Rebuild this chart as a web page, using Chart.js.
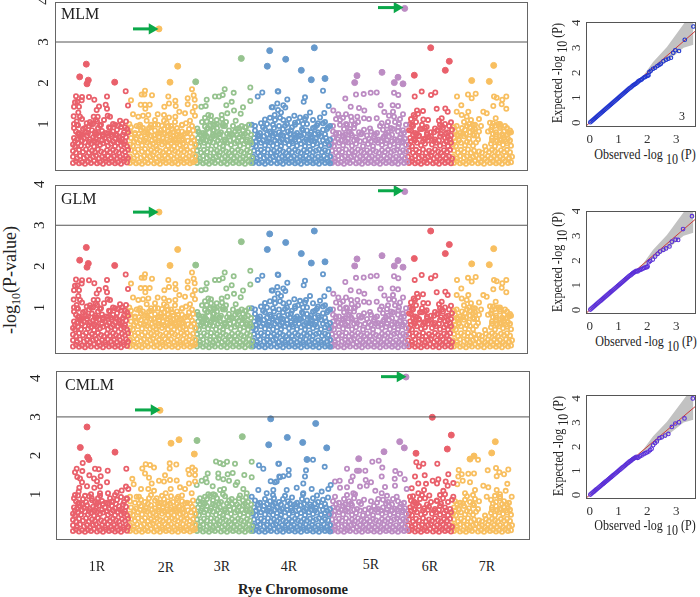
<!DOCTYPE html>
<html>
<head>
<meta charset="utf-8">
<script src="https://cdn.jsdelivr.net/npm/chart.js@4"></script>
<style>
html,body{margin:0;padding:0;background:#fff;}
body{position:relative;width:700px;height:597px;overflow:hidden;font-family:"Liberation Serif",serif;color:#222;}
canvas{position:absolute;}
.t{position:absolute;white-space:nowrap;transform:translate(-50%,-50%);}
.r{transform:translate(-50%,-50%) rotate(-90deg);}
.ex{transform:translate(-50%,-50%) rotate(-90deg) scaleX(.86);}
.ob{transform:translate(-50%,-50%) scaleX(.86);}
sub{font-size:1em;vertical-align:-.35em;line-height:0;}
</style>
</head>
<body>
<canvas id="mlm" width="505" height="173" style="left:25px;top:0"></canvas>
<canvas id="glm" width="505" height="179" style="left:25px;top:176px"></canvas>
<canvas id="cmlm" width="507" height="172" style="left:25px;top:370px"></canvas>
<canvas id="qq1" width="140" height="127" style="left:560px;top:20px"></canvas>
<canvas id="qq2" width="140" height="125" style="left:560px;top:209px"></canvas>
<canvas id="qq3" width="140" height="126" style="left:560px;top:393px"></canvas>

<div class="t" style="left:61px;top:5px;transform:none;font-size:16px">MLM</div>
<div class="t" style="left:61px;top:190px;transform:none;font-size:16px">GLM</div>
<div class="t" style="left:65px;top:376px;transform:none;font-size:16px">CMLM</div>
<div class="t r" style="left:10px;top:280px;font-size:18px">-log<sub style="font-size:12px">10</sub>(P-value)</div>
<div class="t" style="left:97px;top:567px;font-size:14px">1R</div>
<div class="t" style="left:166px;top:568px;font-size:14px">2R</div>
<div class="t" style="left:222px;top:567px;font-size:14px">3R</div>
<div class="t" style="left:289px;top:567px;font-size:14px">4R</div>
<div class="t" style="left:371px;top:565px;font-size:14px">5R</div>
<div class="t" style="left:430px;top:567px;font-size:14px">6R</div>
<div class="t" style="left:487px;top:567px;font-size:14px">7R</div>
<div class="t" style="left:293px;top:589px;font-size:14.5px;font-weight:bold">Rye Chromosome</div>

<div class="t ex" style="left:558px;top:73px;font-size:14px">Expected -log <sub>10</sub> (P)</div>
<div class="t ex" style="left:558px;top:262px;font-size:14px">Expected -log <sub>10</sub> (P)</div>
<div class="t ex" style="left:559px;top:446px;font-size:14px">Expected -log <sub>10</sub> (P)</div>
<div class="t ob" style="left:645px;top:155px;font-size:14px">Observed -log <sub>10</sub> (P)</div>
<div class="t ob" style="left:646px;top:342px;font-size:14px">Observed -log <sub>10</sub> (P)</div>
<div class="t ob" style="left:645px;top:526px;font-size:14px">Observed -log <sub>10</sub> (P)</div>
<div class="t" style="left:682px;top:116px;font-size:12px">3</div>

<script>
// colours per chromosome
let chromColors = ['#E9606B','#F8BF60','#96C38F','#6699CC','#BC8CC3','#E9606B','#F8BF60'];
let yTicks = [1,2,3,4];
let qqXTicks = [0,1,2,3];
let qqYTicks = [0,1,2,3,4];

// dense lower part of each chromosome, position,value,position,value...
let low1R = [18,.05,21,.09,24,.04,27,.07,30,.03,33,.08,36,.05,39,.1,42,.04,45,.07,48,.03,51,.09,54,.05,57,.08,60,.04,63,.07,66,.03,69,.09,72,.06,
18,.2,22,.16,25,.22,29,.17,32,.21,35,.15,38,.2,41,.23,44,.16,47,.2,50,.15,53,.22,56,.17,59,.21,62,.16,65,.2,68,.15,71,.22,73,.17,
18,.34,21,.3,24,.37,28,.32,31,.38,34,.3,37,.35,40,.31,43,.38,46,.33,49,.3,52,.36,55,.31,58,.37,61,.33,64,.3,67,.36,70,.32,73,.37,
18,.5,20,.46,23,.53,26,.47,30,.55,33,.48,36,.52,39,.45,42,.54,45,.49,48,.53,53,.47,56,.52,60,.46,63,.54,66,.48,69,.51,72,.46,
19,.66,22,.62,25,.7,29,.65,32,.72,35,.63,38,.68,41,.64,44,.71,50,.66,54,.62,57,.7,60,.64,64,.69,67,.63,71,.68,
21,.82,24,.78,28,.88,31,.8,34,.95,37,.85,40,.8,43,.9,47,.83,51,.78,55,.9,58,.82,62,.86,66,.93,69,.8,72,.88,19,.9,23,.97,36,1,45,.96,60,.98];
let low2R = [75,.05,78,.09,81,.04,84,.07,87,.03,90,.08,93,.05,96,.1,99,.04,102,.07,105,.03,108,.09,111,.05,114,.08,117,.04,120,.07,123,.03,126,.09,129,.05,132,.08,135,.04,138,.07,140,.1,
75,.21,79,.16,82,.23,86,.18,89,.22,92,.15,95,.2,98,.24,101,.17,104,.21,107,.15,110,.23,113,.18,116,.22,119,.16,122,.2,125,.15,128,.22,131,.17,134,.21,137,.16,140,.22,
76,.36,80,.31,83,.38,87,.33,90,.39,93,.31,96,.36,99,.32,102,.39,105,.34,108,.31,111,.37,114,.32,117,.38,120,.34,123,.31,126,.37,129,.33,132,.38,135,.31,138,.36,
75,.5,78,.46,83,.54,87,.48,92,.55,95,.48,98,.52,101,.46,104,.55,107,.5,110,.54,113,.47,116,.53,119,.46,122,.55,125,.49,128,.52,131,.46,136,.54,140,.49,
76,.66,81,.63,86,.7,91,.65,96,.72,100,.64,104,.69,108,.65,112,.72,116,.66,120,.62,124,.7,128,.64,137,.68,
75,.82,80,.78,86,.86,90,.8,94,.9,100,.84,105,.78,109,.88,113,.82,118,.8,122,.9,127,.82,132,.78,138,.84,84,.94,96,.98,107,.96,116,.95,127,.97];
let low3R = [142,.05,145,.09,148,.04,151,.07,154,.03,157,.08,160,.05,163,.1,166,.04,169,.07,172,.03,175,.09,178,.05,181,.08,184,.04,187,.07,190,.03,193,.09,196,.05,
141,.2,145,.16,148,.22,152,.17,155,.21,158,.15,161,.2,164,.23,167,.16,170,.2,173,.15,176,.22,179,.17,182,.21,185,.16,188,.2,191,.15,194,.22,197,.17,
142,.35,146,.3,149,.37,152,.32,156,.38,159,.3,162,.35,165,.31,168,.38,171,.33,174,.3,177,.36,180,.31,183,.37,186,.33,189,.3,192,.36,195,.32,
141,.5,144,.46,149,.54,153,.48,158,.55,161,.47,165,.52,168,.46,172,.54,176,.49,180,.53,185,.47,189,.52,193,.46,196,.54,
143,.66,147,.63,152,.7,156,.64,160,.72,165,.66,170,.62,174,.7,179,.64,184,.68,188,.72,192,.62,
143,.82,148,.78,152,.88,155,.96,158,.84,162,.9,166,.8,170,.95,174,.84,180,.82,184,.9,188,.84,193,.8,150,.94,160,.98,168,1,191,.92];
let low4R = [198,.05,201,.09,204,.04,207,.07,210,.03,213,.08,216,.05,219,.1,222,.04,225,.07,228,.03,231,.09,234,.05,237,.08,240,.04,243,.07,246,.03,249,.09,252,.05,255,.08,258,.04,261,.07,264,.03,267,.09,270,.05,273,.08,275,.04,
198,.2,202,.16,205,.22,209,.17,212,.21,215,.15,218,.2,221,.23,224,.16,227,.2,230,.15,233,.22,236,.17,239,.21,242,.16,245,.2,248,.15,251,.22,254,.17,257,.21,260,.16,263,.2,266,.15,269,.22,272,.17,275,.21,
199,.35,203,.3,206,.37,209,.32,213,.38,216,.3,219,.35,222,.31,225,.38,228,.33,231,.3,234,.36,237,.31,240,.37,243,.33,246,.3,249,.36,252,.32,255,.37,258,.31,261,.35,264,.38,267,.31,270,.36,273,.33,
198,.5,201,.46,206,.54,210,.48,215,.55,218,.47,222,.52,226,.46,230,.54,234,.49,238,.53,242,.47,246,.52,250,.46,254,.54,258,.49,262,.53,266,.47,270,.52,274,.48,
199,.66,204,.63,209,.7,214,.64,218,.72,222,.66,227,.62,232,.7,236,.64,241,.68,246,.72,251,.62,256,.68,261,.64,266,.7,271,.66,275,.62,
200,.84,205,.78,210,.88,215,.82,219,.9,224,.8,228,.88,233,.82,237,.92,242,.78,247,.88,252,.84,258,.9,263,.8,268,.86,273,.92,218,.98,230,.96,248,1,262,.97];
let low5R = [277,.05,280,.09,283,.04,286,.07,289,.03,292,.08,295,.05,298,.1,301,.04,304,.07,307,.03,310,.09,313,.05,316,.08,319,.04,322,.07,325,.03,328,.09,331,.05,334,.08,337,.04,340,.07,343,.03,346,.09,349,.05,352,.08,
276,.2,280,.16,283,.22,287,.17,290,.21,293,.15,296,.2,299,.23,302,.16,305,.2,308,.15,311,.22,314,.17,317,.21,320,.16,323,.2,326,.15,329,.22,332,.17,335,.21,338,.16,341,.2,344,.15,347,.22,350,.17,
277,.35,281,.3,284,.37,287,.32,291,.38,294,.3,297,.35,300,.31,303,.38,306,.33,309,.3,312,.36,315,.31,318,.37,321,.33,324,.3,327,.36,330,.32,333,.37,336,.31,339,.35,342,.38,345,.31,348,.36,351,.33,
276,.5,279,.46,284,.54,288,.48,293,.55,297,.47,301,.52,308,.46,313,.51,318,.46,323,.54,327,.49,331,.53,335,.47,339,.52,343,.46,347,.54,351,.49,
278,.66,283,.63,288,.7,293,.64,297,.72,302,.62,314,.64,319,.7,323,.62,328,.66,334,.7,340,.63,345,.68,350,.64,
278,.82,284,.78,289,.88,294,.82,299,.9,304,.8,309,.86,316,.82,322,.78,328,.86,333,.8,338,.88,343,.82,349,.78,292,.98,300,1,332,.96];
let low6R = [354,.05,357,.09,360,.04,363,.07,366,.03,369,.08,372,.05,375,.1,378,.04,381,.07,384,.03,387,.09,390,.05,393,.08,396,.04,
353,.2,357,.16,360,.22,364,.17,367,.21,370,.15,373,.2,376,.23,379,.16,382,.2,385,.15,388,.22,391,.17,394,.21,397,.16,
354,.35,358,.3,361,.37,364,.32,368,.38,371,.3,374,.35,377,.31,380,.38,383,.33,386,.3,389,.36,392,.32,395,.37,
354,.5,357,.46,362,.54,366,.48,370,.52,377,.5,381,.54,385,.47,389,.52,393,.46,396,.54,
355,.66,359,.62,364,.7,369,.64,374,.68,380,.62,385,.7,390,.66,395,.62,
356,.84,360,.78,365,.88,370,.9,376,.8,382,.84,388,.9,393,.8,397,.86,358,.95,367,.98,390,1];
let low7R = [399,.05,402,.09,405,.04,408,.07,411,.03,414,.08,417,.05,420,.1,423,.04,426,.07,429,.03,432,.09,435,.05,438,.08,441,.04,444,.07,447,.03,450,.09,453,.05,456,.07,
398,.2,402,.16,405,.22,409,.17,412,.21,415,.15,418,.2,421,.23,424,.16,427,.2,430,.15,433,.22,436,.17,439,.21,442,.16,445,.2,448,.15,451,.22,454,.17,457,.2,
399,.35,403,.3,406,.37,409,.32,413,.38,416,.3,419,.35,424,.33,427,.3,431,.36,434,.31,437,.37,440,.33,443,.3,446,.36,449,.32,452,.37,455,.31,
398,.5,401,.46,406,.54,410,.48,415,.55,418,.47,430,.45,436,.52,440,.46,444,.54,448,.49,452,.53,456,.47,
399,.66,404,.63,409,.7,414,.64,419,.72,423,.62,437,.66,441,.7,445,.63,449,.68,453,.64,
400,.82,405,.78,410,.86,415,.8,420,.88,424,.82,436,.86,441,.8,445,.9,449,.82,454,.78,412,.95,418,.98,440,.96,445,1];

// more points where the band thins out
let fill1R = [20,.58,27,.6,34,.57,40,.58,47,.6,52,.57,58,.58,65,.6,70,.57,23,.76,27,.74,42,.76,48,.75,53,.77,61,.75,68,.74];
let fill2R = [79,.58,85,.6,90,.59,97,.6,103,.6,109,.58,115,.6,121,.59,127,.6,133,.59,139,.6,84,.76,93,.76,103,.76,110,.76,115,.76,122,.75,130,.76,135,.76];
let fill3R = [146,.58,151,.6,155,.58,163,.6,170,.58,175,.6,182,.58,187,.6,191,.58,195,.6,145,.75,150,.76,158,.75,164,.76,172,.76,177,.75,182,.74,190,.76,196,.74];
let fill4R = [201,.58,208,.6,213,.58,220,.6,225,.58,232,.6,237,.58,244,.6,249,.58,256,.6,260,.58,268,.6,272,.58,203,.74,212,.75,220,.76,226,.74,235,.76,240,.74,249,.75,255,.74,260,.76,270,.75];
let fill5R = [280,.58,286,.6,291,.58,299,.6,305,.58,310,.6,316,.58,321,.6,326,.58,332,.6,337,.58,342,.6,348,.58,281,.75,290,.74,296,.76,306,.75,331,.76,337,.74,346,.75];
let fill6R = [356,.58,360,.6,368,.58,373,.6,379,.58,384,.6,391,.58,358,.74,362,.76,372,.74,386,.76];
let fill7R = [400,.58,404,.6,412,.57,421,.55,437,.6,442,.58,446,.6,451,.58,455,.6,402,.75,408,.76,418,.75,438,.76,447,.75,452,.74];

// middle points in MLM and GLM, around 1
let mid1R = [19,1,22,.98,27,1.12,30,.9,35,1.05,38,1,42,1.06,46,.98,49,1.1,54,.92,58,1,63,.96,67,1,70,.92,26,.72,40,.75,48,.7,56,.75,62,.72,33,.78,73,.8];
let mid2R = [76,.92,80,.75,85,.98,88,.9,92,.8,96,.92,99,.72,103,.98,106,.85,109,1.08,113,.95,117,.88,120,1.05,123,.82,127,.98,131,1.02,134,.88,137,.95,140,1.2,135,1.08,126,.7,118,.72,100,1.1,88,1.2];
let mid3R = [144,.8,147,1.05,150,.72,153,.9,156,1.1,159,.85,162,1,165,.75,168,.95,171,1.05,175,.75,178,.95,182,.88,186,.75,190,.92,194,.98,148,.62,158,.7,170,.62,150,1.15,156,1.2,167,1.12];
let mid4R = [200,.95,204,.7,208,.92,212,1,216,.78,220,1.1,224,.95,228,.72,232,1,236,.85,240,.98,244,.72,248,.85,252,1,256,.8,260,.92,264,.75,268,1.02,272,.88,206,1.02,215,1.15,225,1.15,234,1.12,258,1.1,263,1.02,270,1.05,243,1.05,250,1.12,240,.62,254,.62];
let mid5R = [278,.95,281,.78,285,.98,288,.72,291,1,295,.88,299,.98,303,1.05,307,.78,320,.75,325,.95,329,.7,333,1.05,336,.9,340,1.05,344,1,348,.85,351,.98,281,1.12,288,1.15,296,1.18,334,1.2,338,1.3,345,1.12,301,.68,312,.72];
let mid6R = [354,.85,357,.98,361,1.05,364,.72,367,.88,372,.78,376,.7,379,.8,383,.85,387,.95,391,.78,394,.95,396,.72,360,.65,370,.62,360,1.18,363,1.25,373,1.1,384,1.08,356,1.12,393,.68];
let mid7R = [399,.92,403,.72,407,.9,411,.75,414,1,418,.85,422,.72,426,.95,433,.82,437,.92,441,.75,445,.95,448,.72,452,.9,456,.8,409,1.05,416,1.1,443,1,438,1.02,424,1.12];

// upper points, MLM panel (GLM reads the same within a pixel)
let mlm1R = [31.3,2.46,24.7,2.15,33.3,2.07,32,1.98,59.7,2.02,70.7,1.8,21,1.68,27,1.66,34,1.66,39.3,1.59,52,1.67,26.7,1.58,20,1.53,22.3,1.54,24,1.42,19,1.42,44,1.43,50.7,1.47,52,1.37,73,1.45,41.7,1.34,23.3,1.28,18.7,1.19,25,1.18,52.7,1.2,55,1.18,38.7,1.18,42.7,1.18,65,1.08,71,1.06,40.7,1.1,21.7,1.06,31.7,1.02];
let mlm2R = [104,3.32,122.7,2.41,115,2.02,137,1.85,90,1.81,86.7,1.72,89.3,1.72,97,1.7,113.3,1.67,76,1.58,132.7,1.63,138.7,1.7,139.7,1.59,120.3,1.57,114,1.5,109.3,1.42,120.7,1.44,85.7,1.47,90,1.47,94.7,1.47,132.7,1.48,140,1.42,90.3,1.37,78,1.24,83.3,1.18,93.3,1.22,102.7,1.24,109,1.22,114,1.16,124.3,1.3,130,1.26,137.7,1.3,120.3,1.18,74.3,1,81.7,.95,91.7,1.08,100,.98,111.7,1.03];
let mlm3R = [140.7,2.03,186.3,2.6,195.3,1.89,169.7,1.85,178.7,1.76,160,1.67,164,1.67,167.7,1.71,151.7,1.59,195.3,1.56,176.7,1.54,171.3,1.46,188,1.41,146.3,1.42,150.7,1.44,179,1.33,172.3,1.26,185.7,1.25,166.7,1.22,153.3,1.22,180.7,1.08,161.7,1.1,186.7,.95,142.3,.89,151.7,1.06,158.3,.98];
let mlm4R = [214.7,2.79,212.3,2.41,207.3,1.77,202.7,1.67,222.7,1.8,230.7,2.58,259.3,2.86,246.3,2.31,256.3,2.08,270,2.11,268,1.81,223.3,1.79,232.3,1.6,250,1.65,248.7,1.54,273.7,1.44,222.3,1.5,228.3,1.46,216.7,1.41,230.3,1.4,255,1.28,219.7,1.22,226,1.28,239.3,1.2,245,1.16,251,1.18,265,1.16,269.3,1.27,240,1.03,228.3,1.1,275,.95,223,1.34,217.7,1.41,210,1.11,196.7,.98];
let mlm5R = [349.7,3.82,327,2.26,302,2.18,343,2.14,299.7,2.01,339.3,2.01,348,1.98,321.7,1.77,315.7,1.76,308.7,1.73,301,1.72,339,1.76,343.3,1.71,290.3,1.62,325.7,1.46,337.7,1.46,343,1.44,304,1.39,295.7,1.42,309.3,1.33,291,1.24,283.3,1.24,278.3,1.33,329.3,1.29,348,1.24,302.3,1.18,309,1.14,314,1.12,321.7,1.14,339,1.18,285,1.1,296.7,1.08,326.7,1.02,343.3,.93,315,.89];
let mlm6R = [375.7,2.86,394.3,2.53,390.3,2.31,359.3,2.19,380.3,1.77,366.7,1.79,376,1.71,359.7,1.67,381.7,1.37,368,1.32,362,1.33,358.7,1.22,390.3,1.38,392.7,1.3,386.7,1.14,368.3,1.11,380,.89,396,1.04,355,1,371.7,.93,385,.98];
let mlm7R = [438.7,2.43,416.7,2.06,434.3,2.04,420.7,1.74,413,1.72,416.7,1.63,402,1.67,439,1.67,441.7,1.64,451.3,1.67,447.3,1.59,446.7,1.48,406.3,1.46,438.3,1.44,451.3,1.37,401.7,1.3,413.3,1.3,428.3,1.3,406.7,1.22,431.7,1.26,440.7,1.14,411.7,1.18,435,1.03,450,.95,455,.84,420,.98,401.7,.95,415,.92];

// upper points, CMLM panel
let cmlm1R = [32,2.74,25.3,2.21,60,2.09,32.7,1.96,34,1.9,27.7,1.81,71.3,1.66,21.7,1.66,27.3,1.6,20,1.57,40,1.66,43.7,1.65,52.7,1.61,34.3,1.49,39,1.41,45.7,1.47,22.3,1.45,25,1.41,52,1.31,27,1.31,42,1.34,32,1.21,45,1.2,71,1.2,66.7,1.1,24.3,1.17,20,.98,23.7,1.07,61.7,1.05,73.3,1.14,39.3,1.17,53,1.03,30,.96,45,1.03,36.7,.9,56.7,.81,71.7,.9];
let cmlm2R = [105,3.17,124,2.41,116,2.32,139.3,2.04,90.7,1.78,95,1.76,99,1.69,87.3,1.67,114.7,1.8,121.3,1.77,114.7,1.67,137.3,1.69,133.3,1.63,140,1.63,134.3,1.52,140,1.5,90,1.54,110,1.49,77.3,1.4,78.7,1.26,94,1.43,96.7,1.28,104,1.35,109,1.33,115,1.37,121.7,1.36,134,1.28,140,1.33,125,1.18,130,1.14,86,1.14,93.3,1.14,99,1.09,115.7,1.14,110.7,1.03,75,.94,81.7,.94,101.7,.9,123.3,.94,136.7,1.03];
let cmlm3R = [142,2.39,187.3,2.49,196.7,1.84,161,1.85,165,1.81,168.3,1.78,172,1.84,180,1.79,152.7,1.54,163.3,1.54,172.7,1.52,177.7,1.55,189.3,1.5,196.7,1.44,146.7,1.35,150.7,1.41,163.3,1.43,168.3,1.39,174,1.35,182.3,1.31,180.7,1.24,151.7,1.31,141.7,1.24,157.7,1.21,165,1.11,169,1.14,188.3,1.14,153.3,1,158.3,1,185,.97,191.7,1.03,145,.9,176.7,.88];
let cmlm4R = [215.7,2.95,213.7,2.28,204,1.75,208.3,1.66,223.3,1.79,224.3,1.46,215.7,1.34,220,1.31,203.3,1.11,211.7,1.03,196.7,.94,260.7,2.83,232.3,2.47,247.7,2.34,271.7,2.2,224,1.79,252,1.9,258,1.89,269.7,1.71,233.7,1.63,251,1.62,233.7,1.5,250,1.46,228.3,1.47,225,1.44,275.7,1.24,248.3,1.28,256.7,1.14,241.7,1.17,221.7,1.33,231.7,1.11,266.7,1.07,273.3,1.14,248.3,1.03,218.3,1.11];
let cmlm5R = [351,4.03,344.7,2.36,349.3,2.2,329,2.1,303.7,1.92,323.7,1.87,317.3,1.84,327.3,1.69,292,1.66,302,1.61,304,1.61,310.3,1.61,340.3,1.6,345,1.53,326.7,1.46,297.7,1.46,310.7,1.37,316,1.31,339.7,1.4,349.7,1.39,280,1.33,284.7,1.35,296,1.34,305,1.2,311.7,1.22,320.3,1.09,330,1.19,340,1.22,285,1.17,292,1.18,351.7,1.14,298.3,1.03,326.7,1.03,341.7,.94,323.3,.88,280,.94];
let cmlm6R = [377.3,2.99,396.3,2.53,392.3,2.17,361,2.06,361.3,1.83,368.3,1.79,364,1.72,382.3,1.79,369.7,1.49,393.3,1.52,360,1.46,377.7,1.35,383.3,1.39,363.3,1.28,382,1.28,390.7,1.33,398.3,1.29,371,1.27,392.7,1.22,356.7,1.16,369,1.11,388.3,1.09,363.3,1.03,374.3,.97,381.7,.83,398.3,.94,355,.94,359,.81,385,.98];
let cmlm7R = [440.3,2.36,436.7,2.07,419,1.99,415,1.91,423,1.89,441,1.68,453.3,1.64,432.7,1.62,403.7,1.63,444.3,1.57,449,1.52,419,1.54,413.3,1.53,406.7,1.52,441.7,1.47,403.3,1.46,407.7,1.35,415,1.31,452.3,1.27,402.3,1.26,428.3,1.22,433.3,1.18,441.7,1.11,420,1.11,450.7,1.09,456.7,.94,410,1.03,431.7,.94,445,.94];

// green arrows beside the top hits: x from, x to, value
let mlmArrow2R = [78,97,3.32];
let mlmArrow5R = [323,342,3.84];
let cmlmArrow2R = [80,99,3.18];
let cmlmArrow5R = [326,345,4.04];

// QQ plots: the part on the diagonal
let qqBaseObs = [.02,.06,.1,.14,.18,.22,.26,.3,.34,.38,.42,.46,.5,.54,.58,.62,.66,.7,.74,.78,.82,.86,.9,.94,.98,1.02,1.06,1.1,1.14,1.18,1.22,1.26,1.3,1.34,1.38,1.42,1.46,1.5,1.54,1.58,1.62];
let qqBaseExp = [.02,.06,.1,.14,.18,.22,.26,.3,.34,.38,.42,.46,.5,.54,.58,.62,.66,.7,.74,.78,.82,.86,.9,.94,.98,1.02,1.06,1.1,1.14,1.18,1.22,1.26,1.3,1.34,1.38,1.41,1.45,1.49,1.52,1.55,1.58];
// tails
let qq1Obs = [1.66,1.69,1.73,1.77,1.81,1.87,1.92,1.97,2.01,2.04,2.07,2.12,2.2,2.27,2.35,2.42,2.47,2.56,2.65,2.73,2.82,2.9,2.97,3.1,3.3,3.6];
let qq1Exp = [1.62,1.66,1.69,1.71,1.74,1.8,1.83,1.86,1.88,1.9,2.03,2.08,2.16,2.2,2.27,2.32,2.36,2.46,2.52,2.56,2.6,2.8,2.9,2.87,3.32,3.85];
let qq2Obs = [1.66,1.7,1.74,1.79,1.84,1.89,1.94,1.98,2.01,2.05,2.1,2.19,2.27,2.36,2.44,2.56,2.65,2.77,2.85,2.98,3.07,3.24,3.55];
let qq2Exp = [1.56,1.6,1.62,1.64,1.67,1.7,1.72,1.73,1.76,1.93,1.98,2.04,2.16,2.27,2.36,2.43,2.49,2.57,2.76,2.84,2.83,3.27,3.79];
let qq3Obs = [1.66,1.69,1.74,1.8,1.87,1.93,1.98,2.04,2.1,2.15,2.2,2.27,2.33,2.42,2.5,2.62,2.73,2.85,2.97,3.1,3.29,3.58];
let qq3Exp = [1.54,1.56,1.6,1.64,1.69,1.73,1.76,1.8,1.86,1.92,2.06,2.15,2.22,2.36,2.39,2.46,2.53,2.82,2.96,3.01,3.17,4];
// confidence band
let bandX = [1.7,1.87,2.2,2.68,3.26,3.6];
let bandUpper = [1.72,1.9,2.43,3.03,3.95,4.5];
let bandLower = [1.68,1.77,2.06,2.45,3,3.12];
let diagonal = [-.2,3.9];

// pairs a flat position,value list up
function toPoints(list){
  let out = [];
  for(let i = 0; i < list.length; i += 2){
    out.push({x:list[i],y:list[i+1]});
  }
  return out;
}

// box round the plot
let frame = {
  id:'frame',
  afterDraw(chart){
    let a = chart.chartArea, c = chart.ctx;
    c.save();
    c.strokeStyle = chart.options.plugins.frame.color;
    c.lineWidth = chart.options.plugins.frame.width;
    c.strokeRect(a.left+.5,a.top+.5,a.right-a.left-1,a.bottom-a.top-1);
    c.restore();
  }
};

function arrowSet(a){
  return {
    type:'line',
    data:[{x:a[0],y:a[2]},{x:a[1],y:a[2]}],
    borderColor:'#0BA84A',backgroundColor:'#0BA84A',borderWidth:3,
    pointRadius:[0,3.5],pointStyle:'triangle',rotation:90,order:0
  };
}

function manhattan(id,lows,ups,arrows,xMin,xMax,yMin,yMax,pad,axisWidth,tickPad){
  let sets = [];
  for(let i = 0; i < lows.length; i++){
    let col = chromColors[i];
    sets.push({
      data:toPoints(lows[i].concat(ups[i])),
      borderColor:col,
      backgroundColor:function(ctx){ return ctx.raw && ctx.raw.y >= 1.9 ? col : 'rgba(0,0,0,0)'; },
      borderWidth:function(ctx){ return ctx.raw && ctx.raw.y >= 1.9 ? 1 : 1.8; },
      pointRadius:function(ctx){ return ctx.raw && ctx.raw.y >= 1.9 ? 3 : 2.1; },
      order:2
    });
  }
  sets.push({type:'line',data:[{x:xMin,y:3},{x:xMax,y:3}],borderColor:'#555',borderWidth:1,pointRadius:0,order:1});
  arrows.forEach(function(a){ sets.push(arrowSet(a)); });
  new Chart(document.getElementById(id),{
    type:'scatter',
    data:{datasets:sets},
    plugins:[frame],
    options:{
      responsive:false,animation:false,
      layout:{autoPadding:false,padding:pad},
      plugins:{legend:{display:false},tooltip:{enabled:false},frame:{color:'#666',width:1}},
      scales:{
        x:{type:'linear',display:false,min:xMin,max:xMax},
        y:{type:'linear',min:yMin,max:yMax,
          afterFit:function(s){ s.width = axisWidth; s.paddingTop = 0; s.paddingBottom = 0; },
          afterBuildTicks:function(s){ s.ticks = yTicks.map(function(v){ return {value:v}; }); },
          grid:{display:false,drawTicks:false},border:{display:false},
          ticks:{minRotation:90,maxRotation:90,padding:tickPad,color:'#222',align:'center',crossAlign:'center',
            font:{family:'Liberation Serif',size:15}}
        }
      }
    }
  });
}

function qq(id,obs,exp,col,yMin,yMax){
  let pts = [];
  let allExp = qqBaseExp.concat(exp);
  qqBaseObs.concat(obs).forEach(function(v,i){ pts.push({x:v,y:allExp[i]}); });
  new Chart(document.getElementById(id),{
    type:'scatter',
    data:{datasets:[
      {type:'line',data:bandX.map(function(v,i){ return {x:v,y:bandUpper[i]}; }),borderWidth:0,pointRadius:0,backgroundColor:'#C2C2C2',fill:'+1',order:3},
      {type:'line',data:bandX.map(function(v,i){ return {x:v,y:bandLower[i]}; }),borderWidth:0,pointRadius:0,order:3},
      {type:'line',data:diagonal.map(function(v){ return {x:v,y:v}; }),borderColor:'#CC3B3B',borderWidth:1,pointRadius:0,order:2},
      {data:pts,borderColor:col,backgroundColor:'rgba(0,0,0,0)',borderWidth:1.1,pointRadius:1.8,order:1}
    ]},
    plugins:[frame],
    options:{
      responsive:false,animation:false,
      layout:{autoPadding:false,padding:{top:2,right:4,bottom:0,left:0}},
      plugins:{legend:{display:false},tooltip:{enabled:false},frame:{color:'#555',width:1}},
      scales:{
        x:{type:'linear',min:-.13,max:3.69,
          afterFit:function(s){ s.height = 20; s.paddingLeft = 0; s.paddingRight = 0; },
          afterBuildTicks:function(s){ s.ticks = qqXTicks.map(function(v){ return {value:v}; }); },
          grid:{display:false,tickLength:3,tickColor:'#555'},border:{display:false},
          ticks:{maxRotation:0,padding:2,color:'#333',font:{family:'Liberation Serif',size:13}}
        },
        y:{type:'linear',min:yMin,max:yMax,
          afterFit:function(s){ s.width = 26; s.paddingTop = 0; s.paddingBottom = 0; },
          afterBuildTicks:function(s){ s.ticks = qqYTicks.map(function(v){ return {value:v}; }); },
          grid:{display:false,tickLength:3,tickColor:'#555'},border:{display:false},
          ticks:{minRotation:90,maxRotation:90,padding:3,color:'#333',align:'center',crossAlign:'center',
            font:{family:'Liberation Serif',size:13}}
        }
      }
    }
  });
}

let lows = [low1R.concat(fill1R),low2R.concat(fill2R),low3R.concat(fill3R),low4R.concat(fill4R),low5R.concat(fill5R),low6R.concat(fill6R),low7R.concat(fill7R)];
let mlmUps = [mlm1R.concat(mid1R),mlm2R.concat(mid2R),mlm3R.concat(mid3R),mlm4R.concat(mid4R),mlm5R.concat(mid5R),mlm6R.concat(mid6R),mlm7R.concat(mid7R)];
let cmlmUps = [cmlm1R,cmlm2R,cmlm3R,cmlm4R,cmlm5R,cmlm6R,cmlm7R];

manhattan('mlm',lows,mlmUps,[mlmArrow2R,mlmArrow5R],0,473,-.146,3.976,{top:2,right:2,bottom:2,left:0},30,7);
manhattan('glm',lows,mlmUps,[mlmArrow2R,mlmArrow5R],0,473,-.134,3.98,{top:9,right:2,bottom:1,left:0},30,11);
manhattan('cmlm',lows,cmlmUps,[cmlmArrow2R,cmlmArrow5R],1,475,-.18,4.186,{top:1,right:2,bottom:2,left:0},31,16);

qq('qq1',qq1Obs,qq1Exp,'#1F35D0',-.17,4.03);
qq('qq2',qq2Obs,qq2Exp,'#5A30D8',-.16,4);
qq('qq3',qq3Obs,qq3Exp,'#5A30D8',-.165,4.14);
</script>
</body>
</html>
